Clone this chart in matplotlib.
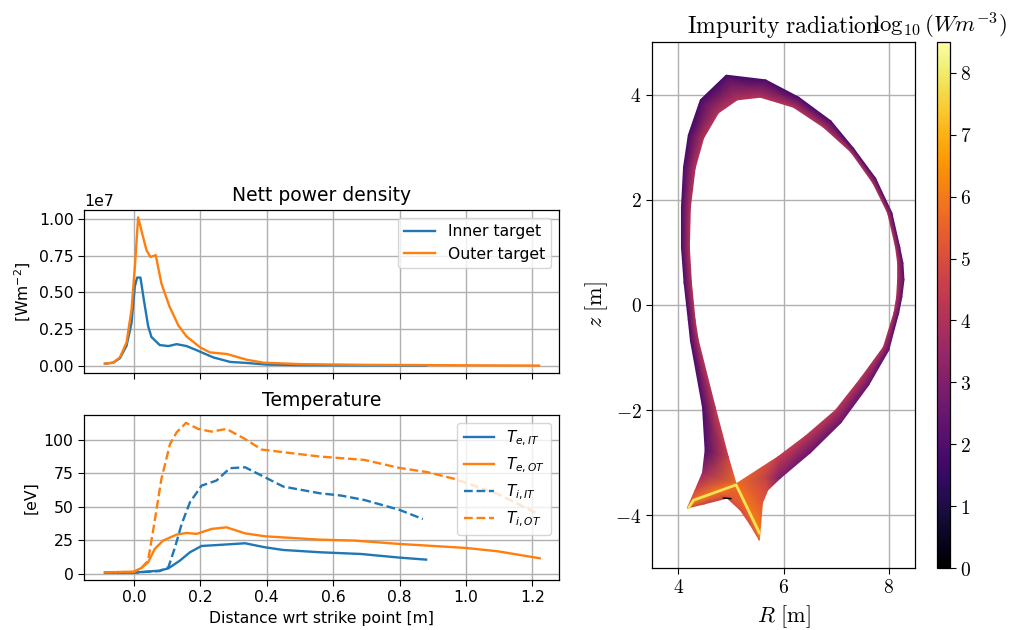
import numpy as np
import matplotlib
matplotlib.use("Agg")
import matplotlib.pyplot as plt

plt.rcParams["mathtext.fontset"] = "dejavusans"
plt.rcParams["font.size"] = 11.25
plt.rcParams["lines.linewidth"] = 1.7
plt.rcParams["axes.linewidth"] = 0.9
plt.rcParams["grid.linewidth"] = 1.0
plt.rcParams["xtick.major.size"] = 4
plt.rcParams["ytick.major.size"] = 4
plt.rcParams["axes.titlepad"] = 6.8

# target profiles, distance wrt strike point [m]
s_q_in = [-0.087, -0.062, -0.042, -0.022, -0.007, 0.003, 0.01, 0.02, 0.03, 0.043, 0.053, 0.078, 0.104, 0.129, 0.159, 0.189, 0.239, 0.29, 0.34, 0.4, 0.5, 0.7, 0.88]
q_in = [0.013, 0.02, 0.05, 0.135, 0.29, 0.54, 0.6, 0.6, 0.45, 0.27, 0.195, 0.14, 0.133, 0.146, 0.133, 0.105, 0.056, 0.025, 0.018, 0.007, 0.003, 0.001, 0.0]
s_q_out = [-0.087, -0.062, -0.042, -0.022, -0.007, 0.003, 0.013, 0.023, 0.038, 0.05, 0.066, 0.083, 0.107, 0.134, 0.159, 0.2, 0.229, 0.28, 0.34, 0.39, 0.5, 0.7, 1.0, 1.22]
q_out = [0.013, 0.02, 0.056, 0.157, 0.38, 0.67, 1.01, 0.92, 0.787, 0.74, 0.753, 0.56, 0.405, 0.274, 0.198, 0.124, 0.09, 0.079, 0.04, 0.02, 0.01, 0.005, 0.002, 0.0]

s_te_in = [-0.087, 0.0, 0.078, 0.104, 0.139, 0.169, 0.204, 0.239, 0.335, 0.395, 0.45, 0.56, 0.684, 0.8, 0.88]
te_in = [1.0, 1.0, 2.5, 4.2, 10.0, 16.2, 20.9, 21.4, 22.9, 19.9, 17.9, 16.2, 14.9, 12.2, 10.7]
s_te_out = [-0.087, 0.0, 0.023, 0.043, 0.063, 0.088, 0.129, 0.159, 0.189, 0.234, 0.279, 0.335, 0.395, 0.56, 0.664, 0.8, 1.0, 1.096, 1.222]
te_out = [1.2, 1.7, 4.5, 8.7, 18.7, 24.9, 29.4, 30.6, 29.9, 33.6, 34.8, 30.3, 28.1, 25.6, 24.9, 22.4, 19.4, 16.9, 11.7]
s_ti_in = [-0.087, 0.0, 0.078, 0.104, 0.124, 0.144, 0.169, 0.204, 0.249, 0.289, 0.335, 0.395, 0.45, 0.56, 0.624, 0.694, 0.8, 0.87]
ti_in = [1.0, 1.0, 2.2, 5.0, 19.9, 37.3, 53.5, 65.9, 69.7, 78.9, 79.6, 72.1, 65.2, 60.2, 58.5, 55.2, 47.8, 41.0]
s_ti_out = [-0.087, 0.0, 0.023, 0.043, 0.063, 0.083, 0.109, 0.129, 0.157, 0.194, 0.234, 0.279, 0.335, 0.385, 0.56, 0.694, 0.8, 0.885, 0.966, 1.096, 1.217]
ti_out = [1.2, 1.5, 4.5, 10.0, 39.8, 70.9, 97.0, 105.7, 112.7, 108.2, 106.2, 108.2, 100.7, 92.8, 87.6, 85.1, 79.1, 75.9, 70.9, 59.7, 44.8]

# radiation mesh: wall side row and separatrix side row
R_wall = [4.17, 4.32, 4.46, 4.51, 4.46, 4.23, 4.19, 4.11, 4.06, 4.06, 4.10, 4.19, 4.42, 4.91, 5.66, 6.29, 6.90, 7.33, 7.75, 8.06, 8.21, 8.27, 8.29, 8.25, 8.19, 8.0, 7.62, 7.09, 6.51, 5.94, 5.70, 5.60, 5.54]
z_wall = [-3.86, -3.52, -3.19, -2.76, -1.94, -0.67, -0.29, 0.42, 1.10, 1.86, 2.62, 3.23, 3.90, 4.37, 4.28, 3.95, 3.50, 2.98, 2.41, 1.75, 1.10, 0.80, 0.48, 0.15, -0.15, -0.86, -1.52, -2.24, -2.81, -3.29, -3.52, -3.76, -4.47]
rad_wall = [5.5, 4.8, 3.5, 2.0, 1.9, 1.9, 1.9, 1.9, 1.9, 1.9, 1.9, 1.8, 1.8, 1.8, 1.8, 1.8, 1.9, 1.9, 1.9, 2.0, 2.0, 2.0, 2.1, 2.1, 2.1, 2.2, 2.4, 2.5, 2.5, 2.9, 4.8, 5.2, 6.0]
R_sep = [4.29, 4.69, 5.10, 4.95, 4.70, 4.38, 4.32, 4.25, 4.21, 4.23, 4.32, 4.48, 4.76, 5.12, 5.56, 6.19, 6.76, 7.28, 7.70, 7.98, 8.13, 8.17, 8.17, 8.15, 8.10, 7.90, 7.47, 6.99, 6.42, 5.89, 5.10, 5.33, 5.54]
z_sep = [-3.71, -3.56, -3.40, -2.89, -1.94, -0.67, -0.29, 0.42, 1.10, 1.86, 2.60, 3.17, 3.65, 3.90, 3.95, 3.76, 3.38, 2.91, 2.32, 1.75, 1.10, 0.80, 0.48, 0.15, -0.15, -0.80, -1.39, -2.00, -2.49, -2.89, -3.40, -3.86, -4.33]
rad_sep = [6.5, 6.0, 5.8, 4.6, 4.3, 4.1, 4.1, 4.1, 4.1, 4.1, 4.1, 4.1, 4.1, 4.1, 4.1, 4.1, 4.1, 4.1, 4.1, 4.1, 4.1, 4.1, 4.1, 4.1, 4.1, 4.1, 4.2, 4.2, 4.3, 4.5, 5.8, 6.0, 6.5]

# private flux region under the x-point
R_pf_top = [4.17, 4.29, 4.69, 5.10, 5.33, 5.54]
z_pf_top = [-3.86, -3.71, -3.56, -3.40, -3.86, -4.33]
R_pf_bot = [4.17, 4.50, 4.93, 5.18, 5.37, 5.54]
z_pf_bot = [-3.86, -3.78, -3.67, -3.90, -4.18, -4.47]
rad_pf_top = [5.5, 6.5, 6.0, 5.8, 6.0, 6.5]
rad_pf_bot = [5.0, 4.5, 4.6, 5.0, 5.0, 5.5]

# hot line along the legs and the cold spot under it
R_leg = [4.20, 4.29, 5.10, 5.54]
z_leg = [-3.85, -3.71, -3.42, -4.33]
R_cold = [4.86, 5.00]
z_cold = [-3.67, -3.68]

fig = plt.figure(figsize=(10.09, 6.30), dpi=100)
ax1 = fig.add_axes([84 / 1009, 1 - 373 / 630, 475 / 1009, 163 / 630])
ax2 = fig.add_axes([84 / 1009, 1 - 580 / 630, 475 / 1009, 165 / 630], sharex=ax1)
ax3 = fig.add_axes([652 / 1009, 1 - 568 / 630, 263 / 1009, 526 / 630])
cax = fig.add_axes([937 / 1009, 1 - 568 / 630, 13 / 1009, 526 / 630])

ax1.plot(s_q_in, np.array(q_in) * 1e7, label="Inner target")
ax1.plot(s_q_out, np.array(q_out) * 1e7, label="Outer target")
ax1.set_xlim(-0.15, 1.28)
ax1.set_ylabel(r"[Wm$^{-2}$]")
ax1.set_title("Nett power density", fontsize=13.5)
ax1.set_yticks([0, 0.25e7, 0.5e7, 0.75e7, 1e7])
ax1.grid(True)
ax1.legend(loc="upper right", fontsize=11.25)
ax1.tick_params(labelbottom=False)

ax2.plot(s_te_in, te_in, "C0", label=r"$T_{e,IT}$")
ax2.plot(s_te_out, te_out, "C1", label=r"$T_{e,OT}$")
ax2.plot(s_ti_in, ti_in, "C0--", label=r"$T_{i,IT}$")
ax2.plot(s_ti_out, ti_out, "C1--", label=r"$T_{i,OT}$")
ax2.set_ylim(-4.5, 118.6)
ax2.set_yticks([0, 25, 50, 75, 100])
ax2.set_xticks([0, 0.2, 0.4, 0.6, 0.8, 1.0, 1.2])
ax2.set_xlabel("Distance wrt strike point [m]")
ax2.set_ylabel("[eV]")
ax2.set_title("Temperature", fontsize=13.5)
ax2.grid(True)
ax2.legend(loc="upper right", fontsize=11)

X = np.array([R_wall, R_sep])
Y = np.array([z_wall, z_sep])
C = np.array([rad_wall, rad_sep])
mesh = ax3.pcolormesh(X, Y, C, shading="gouraud", cmap="inferno", vmin=0, vmax=8.5)
ax3.pcolormesh(np.array([R_pf_top, R_pf_bot]), np.array([z_pf_top, z_pf_bot]),
               np.array([rad_pf_top, rad_pf_bot]), shading="gouraud", cmap="inferno", vmin=0, vmax=8.5)
ax3.plot(R_cold, z_cold, color=plt.cm.inferno(0.0), lw=1)
ax3.plot(R_leg, z_leg, color=plt.cm.inferno(0.92), lw=2)
ax3.set_xlim(3.5, 8.5)
ax3.set_ylim(-5, 5)
ax3.set_axisbelow(True)
ax3.grid(True)
ax3.set_xticks([4, 6, 8])
ax3.set_xticklabels(["$4$", "$6$", "$8$"], math_fontfamily="cm", fontsize=14)
ax3.set_yticks([-4, -2, 0, 2, 4])
ax3.set_yticklabels(["$-4$", "$-2$", "$0$", "$2$", "$4$"], math_fontfamily="cm", fontsize=14)
ax3.set_xlabel(r"$R\ \mathrm{[m]}$", math_fontfamily="cm", fontsize=16)
ax3.set_ylabel(r"$z\ \mathrm{[m]}$", math_fontfamily="cm", fontsize=16)
ax3.set_title(r"$\mathrm{Impurity\ radiation}$", math_fontfamily="cm", fontsize=17)

cb = fig.colorbar(mesh, cax=cax)
cb.set_ticks(range(9))
cb.set_ticklabels(["$%d$" % v for v in range(9)], math_fontfamily="cm", fontsize=14)
cax.set_title(r"$\log_{10}(W m^{-3})$", math_fontfamily="cm", fontsize=16.5, x=0.2)

fig.savefig("out.png", dpi=100)
